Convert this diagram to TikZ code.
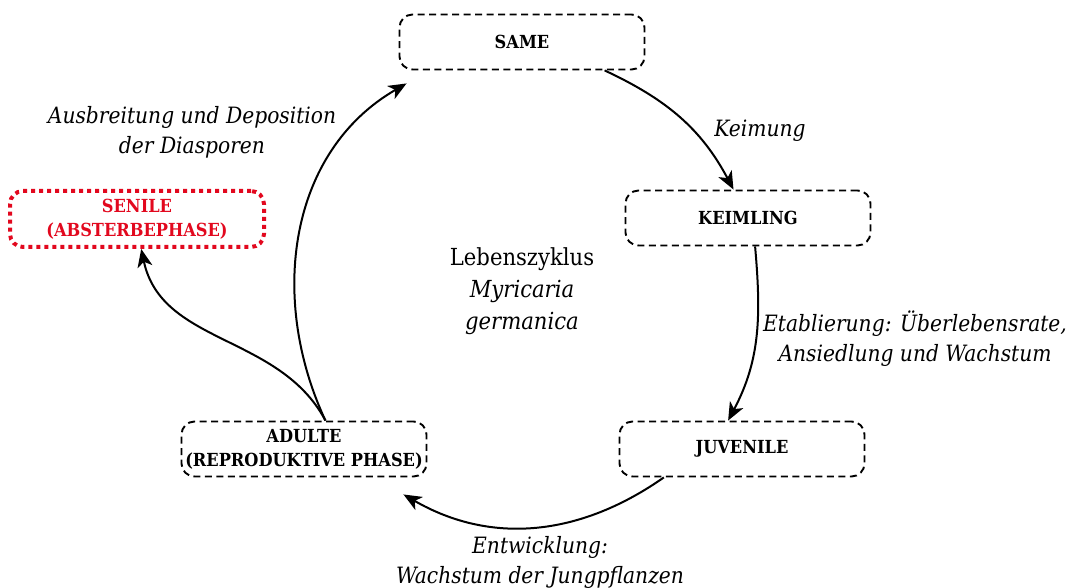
\documentclass[tikz,border=0pt]{standalone}
\usepackage{fontspec}
\IfFontExistsTF{DejaVu Serif Condensed}{\setmainfont{DejaVu Serif Condensed}}{\setmainfont{DejaVu Serif}}
\usetikzlibrary{arrows.meta,calc}
\definecolor{senred}{RGB}{226,8,30}
\tikzset{
  stage/.style={draw, dash pattern=on 7pt off 4.5pt, line width=1.9pt, rounded corners=13pt,
    minimum width=245pt, minimum height=55pt, align=center, inner sep=1pt,
    font=\bfseries\fontsize{18}{24}\selectfont},
  senilebox/.style={stage, draw=senred, text=senred, line width=4pt, dash pattern=on 4pt off 4pt,
    minimum width=254pt, minimum height=56pt},
  lbl/.style={align=center, font=\itshape\fontsize{22.5}{30}\selectfont, inner sep=0pt},
  cyc/.style={line width=2pt, -{Stealth[length=18pt,width=15pt,inset=5pt]}},
}
\begin{document}
\begin{tikzpicture}[x=1pt,y=1pt]
\useasboundingbox (0,0) rectangle (1071,-588);
\node[stage] (same) at (522,-42) {SAME};
\node[stage] (keim) at (748,-218) {KEIMLING};
\node[stage] (juv) at (742,-449) {JUVENILE};
\node[stage] (adult) at (304,-449) {ADULTE\\(REPRODUKTIVE PHASE)};
\node[senilebox] (senile) at (137,-219) {SENILE\\(ABSTERBEPHASE)};

\node[align=center, inner sep=0pt, font=\fontsize{23.5}{32}\selectfont] (title) at (522,-291)
  {Lebenszyklus\\\textit{Myricaria}\\\textit{germanica}};

\node[lbl] (l1) at (192,-132) {Ausbreitung und Deposition\\der Diasporen};
\node[lbl] (l2) at (760,-131) {Keimung};
\node[lbl] (l3) at (915,-339) {Etablierung: Überlebensrate,\\Ansiedlung und Wachstum};
\node[lbl] (l4) at (540,-562) {Entwicklung:\\Wachstum der Jungpflanzen};

\coordinate (samein) at ($(same.south west)+(8,-13)$);
\coordinate (adultin) at ($(adult.south east)+(-24,-17)$);

\draw[cyc] (same.-19) to[out=-25,in=118] (keim.117);
\draw[cyc] (keim.-76) to[out=-85,in=62] (juv.116);
\draw[cyc] (juv.-160) to[out=-145,in=-30] (adultin);
\draw[cyc] (adult.53) to[out=115,in=-150] (samein);
\draw[cyc] (adult.53) to[out=118,in=-78] (senile.-82);
\end{tikzpicture}
\end{document}
